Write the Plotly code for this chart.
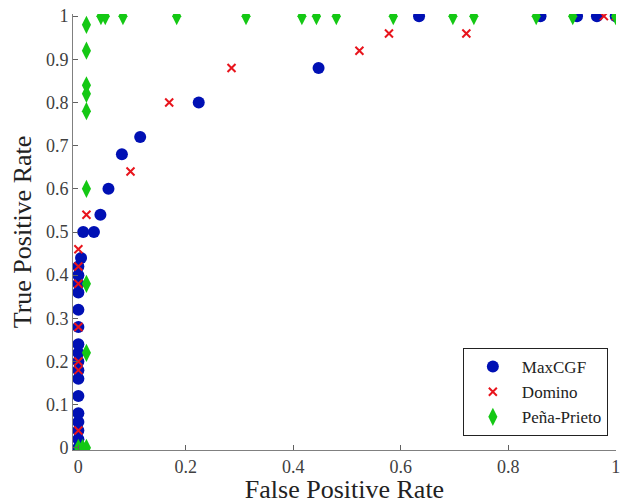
import plotly.graph_objects as go

# MaxCGF
maxcgf_fpr = [0.0, 0.0, 0.0, 0.0, 0.0, 0.0, 0.0, 0.0, 0.0, 0.0, 0.0, 0.0, 0.0, 0.0, 0.0, 0.0, 0.0,
              0.005, 0.009, 0.029, 0.041, 0.056, 0.081, 0.115, 0.224, 0.447,
              0.634, 0.86, 0.928, 0.965, 1.0]
maxcgf_tpr = [0.0, 0.02, 0.04, 0.06, 0.08, 0.12, 0.16, 0.18, 0.20, 0.22, 0.24, 0.28, 0.32, 0.36, 0.38, 0.40, 0.42,
              0.44, 0.50, 0.50, 0.54, 0.60, 0.68, 0.72, 0.80, 0.88,
              1.0, 1.0, 1.0, 1.0, 1.0]

# Domino
domino_fpr = [0.0, 0.0, 0.0, 0.0, 0.0, 0.0, 0.0, 0.015, 0.097, 0.169, 0.285, 0.523, 0.578, 0.722, 0.978, 1.0]
domino_tpr = [0.04, 0.18, 0.20, 0.28, 0.38, 0.42, 0.46, 0.54, 0.64, 0.80, 0.88, 0.92, 0.96, 0.96, 1.0, 1.0]

# Peña-Prieto
pena_fpr = [0.0, 0.008, 0.015, 0.015, 0.015, 0.015, 0.015, 0.015, 0.015, 0.015, 0.015,
            0.042, 0.050, 0.083, 0.183, 0.312, 0.416, 0.443, 0.480, 0.586,
            0.697, 0.736, 0.852, 0.920, 1.0]
pena_tpr = [0.0, 0.0, 0.0, 0.22, 0.38, 0.60, 0.78, 0.82, 0.84, 0.92, 0.98,
            1.0, 1.0, 1.0, 1.0, 1.0, 1.0, 1.0, 1.0, 1.0,
            1.0, 1.0, 1.0, 1.0, 1.0]

xtick_vals = [0, 0.2, 0.4, 0.6, 0.8, 1]
xtick_text = ["0", "0.2", "0.4", "0.6", "0.8", "1"]
ytick_vals = [0, 0.1, 0.2, 0.3, 0.4, 0.5, 0.6, 0.7, 0.8, 0.9, 1]
ytick_text = ["0", "0.1", "0.2", "0.3", "0.4", "0.5", "0.6", "0.7", "0.8", "0.9", "1"]

FONT = "Liberation Serif"

fig = go.Figure()
fig.add_trace(go.Scatter(x=maxcgf_fpr, y=maxcgf_tpr, mode="markers", name="MaxCGF",
                         marker=dict(symbol="circle", size=12, color="#0010b4")))
fig.add_trace(go.Scatter(x=domino_fpr, y=domino_tpr, mode="markers", name="Domino",
                         marker=dict(symbol="x-thin", size=8, color="#e8141c",
                                     line=dict(width=2, color="#e8141c"))))
fig.add_trace(go.Scatter(x=pena_fpr, y=pena_tpr, mode="markers", name="Peña-Prieto",
                         marker=dict(symbol="diamond-tall", size=13, color="#14c814")))

fig.update_layout(
    width=622, height=504,
    margin=dict(l=73, r=6, t=14, b=54, autoexpand=False),
    paper_bgcolor="white", plot_bgcolor="white",
    font=dict(family=FONT, size=18, color="#333333"),
    showlegend=True,
    legend=dict(x=0.985, y=0.032, xanchor="right", yanchor="bottom",
                bgcolor="white", bordercolor="#222222", borderwidth=1,
                font=dict(family=FONT, size=17, color="#222222"),
                itemwidth=48, tracegroupgap=0),
    xaxis=dict(range=[-0.01, 1.0005], tickvals=xtick_vals, ticktext=xtick_text,
               showgrid=False, zeroline=False, showline=True, linecolor="#808080",
               linewidth=1, ticks="inside", ticklen=5, tickcolor="#606060",
               ticklabeloverflow="allow", automargin=False,
               tickfont=dict(family=FONT, size=18, color="#404040"),
               title=dict(text="False Positive Rate", font=dict(family=FONT, size=26, color="#222222"),
                          standoff=4)),
    yaxis=dict(range=[-0.005, 1.005], tickvals=ytick_vals, ticktext=ytick_text,
               showgrid=False, zeroline=False, showline=True, linecolor="#808080",
               linewidth=1, ticks="inside", ticklen=5, tickcolor="#606060",
               ticklabeloverflow="allow", automargin=False,
               tickfont=dict(family=FONT, size=18, color="#404040"),
               title=dict(text="True Positive Rate", font=dict(family=FONT, size=26, color="#222222"),
                          standoff=6)),
)

fig.write_html("out.html")
